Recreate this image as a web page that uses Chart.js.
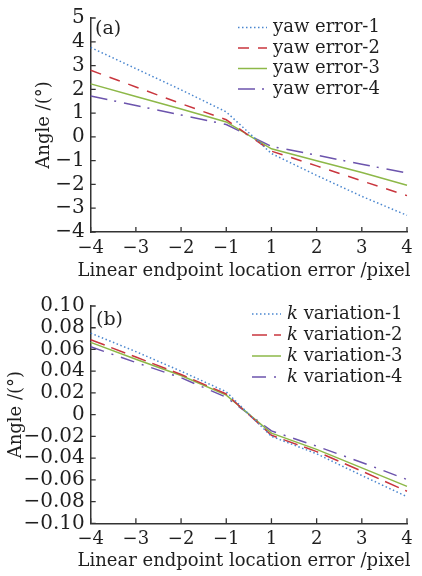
<!DOCTYPE html>
<html>
<head>
<meta charset="utf-8">
<script src="https://cdn.jsdelivr.net/npm/chart.js@4.4.0/dist/chart.umd.min.js"></script>
<style>
body { margin: 0; background: #fff; }
.box { position: absolute; left: 0; width: 422px; height: 288px; }
</style>
</head>
<body>
<div class="box" style="top:0"><canvas id="chartA" width="422" height="288"></canvas></div>
<div class="box" style="top:288px"><canvas id="chartB" width="422" height="288"></canvas></div>
<script>
// endpoint location error (pixel), no 0 column
var xLabels = ['-4', '-3', '-2', '-1', '1', '2', '3', '4'];
var xTitle = 'Linear endpoint location error /pixel';

// (a) yaw error
var yawErr1 = [3.76, 2.87, 1.98, 1.05, -0.70, -1.62, -2.50, -3.30];
var yawErr2 = [2.80, 2.10, 1.40, 0.72, -0.60, -1.22, -1.85, -2.47];
var yawErr3 = [2.23, 1.70, 1.17, 0.63, -0.50, -1.00, -1.50, -2.03];
var yawErr4 = [1.72, 1.32, 0.92, 0.52, -0.40, -0.77, -1.15, -1.52];

// (b) k variation
var kVar1 = [0.0750, 0.058, 0.040, 0.021, -0.020, -0.036, -0.056, -0.0755];
var kVar2 = [0.0690, 0.053, 0.037, 0.019, -0.019, -0.034, -0.052, -0.0705];
var kVar3 = [0.0665, 0.051, 0.036, 0.018, -0.017, -0.032, -0.049, -0.0660];
var kVar4 = [0.0625, 0.048, 0.034, 0.016, -0.015, -0.029, -0.044, -0.0597];

var FONT = "'DejaVu Serif', serif";
var TXT = '#1f1f1f';
var AXIS = '#333';
var BLUE = '#4a86cf', RED = '#c9363e', GREEN = '#8db848', PURPLE = '#6c54ad';

function minus(s) { return String(s).replace('-', '\u2212'); }

// inward ticks, x title, panel tag and legend drawn on top
var decor = {
	id: 'decor',
	afterDraw: function(chart, args, o) {
		var ctx = chart.ctx, a = chart.chartArea;
		var xs = chart.scales.x, ys = chart.scales.y;
		ctx.save();
		ctx.strokeStyle = AXIS;
		ctx.lineWidth = 1.3;
		ctx.beginPath();
		for (var i = 0; i < xs.ticks.length; i++) {
			var px = xs.getPixelForTick(i);
			ctx.moveTo(px, a.bottom);
			ctx.lineTo(px, a.bottom - 5);
		}
		for (var j = 0; j < ys.ticks.length; j++) {
			var py = ys.getPixelForTick(j);
			ctx.moveTo(a.left, py);
			ctx.lineTo(a.left + 5, py);
		}
		ctx.stroke();

		ctx.fillStyle = TXT;
		ctx.textBaseline = 'middle';
		ctx.textAlign = 'center';
		ctx.font = '18px ' + FONT;
		ctx.fillText(xTitle, o.titleX, o.titleY);

		ctx.textAlign = 'left';
		ctx.font = '19px ' + FONT;
		ctx.fillText(o.tag, o.tagX, o.tagY);

		ctx.font = '18px ' + FONT;
		chart.data.datasets.forEach(function(ds, k) {
			var y = o.legY + k * o.legStep;
			ctx.beginPath();
			ctx.strokeStyle = ds.borderColor;
			ctx.lineWidth = ds.borderWidth;
			ctx.setLineDash(ds.borderDash || []);
			ctx.moveTo(o.legX, y);
			ctx.lineTo(o.legX + o.legLen, y);
			ctx.stroke();
			ctx.setLineDash([]);
			var tx = o.legX + o.legLen + o.legGap;
			var label = ds.label;
			if (label.indexOf('k ') === 0) {
				ctx.font = 'italic 18px ' + FONT;
				ctx.fillText('k', tx, y);
				tx += ctx.measureText('k').width;
				ctx.font = '18px ' + FONT;
				label = label.substring(1);
			}
			ctx.fillText(label, tx, y);
		});
		ctx.restore();
	}
};

function line(label, data, color, dash) {
	return {
		label: label, data: data, borderColor: color, borderWidth: 1.5,
		borderDash: dash, pointRadius: 0, tension: 0, fill: false
	};
}

function makeChart(id, datasets, p) {
	return new Chart(document.getElementById(id), {
		type: 'line',
		data: { labels: xLabels, datasets: datasets },
		plugins: [decor],
		options: {
			responsive: false,
			animation: false,
			layout: { padding: { top: p.top, right: 15, left: 0, bottom: 0 } },
			plugins: { legend: { display: false }, tooltip: { enabled: false }, decor: p.decor },
			scales: {
				x: {
					type: 'category',
					offset: false,
					grid: { display: false, drawTicks: false },
					border: { display: true, color: AXIS, width: 1.5 },
					ticks: {
						color: TXT, padding: p.xPad, maxRotation: 0, autoSkip: false,
						font: { family: FONT, size: 18 },
						callback: function(v) { return minus(this.getLabelForValue(v)); }
					},
					afterFit: function(s) { s.height = 288 - p.bottom; }
				},
				y: {
					min: p.min, max: p.max,
					grid: { display: false, drawTicks: false },
					border: { display: true, color: AXIS, width: 1.5 },
					ticks: {
						color: TXT, padding: 6, stepSize: p.step, autoSkip: false,
						font: { family: FONT, size: 20 },
						callback: p.yFmt
					},
					title: {
						display: true, text: 'Angle /(\u00b0)',
						color: TXT, font: { family: FONT, size: 18 },
						padding: { top: p.yTitlePad, bottom: 0 }
					},
					afterFit: function(s) { s.width = 90.7; }
				}
			}
		}
	});
}

makeChart('chartA', [
	line('yaw error-1', yawErr1, BLUE, [1.5, 2.5]),
	line('yaw error-2', yawErr2, RED, [11, 9]),
	line('yaw error-3', yawErr3, GREEN, []),
	line('yaw error-4', yawErr4, PURPLE, [17, 7, 2, 8])
], {
	top: 15, bottom: 232, min: -4, max: 5, step: 1,
	xPad: 6, yTitlePad: 34,
	yFmt: function(v) { return minus(v); },
	decor: { tag: '(a)', tagX: 95, tagY: 29, legX: 238, legLen: 29, legGap: 6, legY: 27.5, legStep: 20.5,
		titleX: 244, titleY: 271 }
});

makeChart('chartB', [
	line('k variation-1', kVar1, BLUE, [1.5, 2.5]),
	line('k variation-2', kVar2, RED, [15, 7]),
	line('k variation-3', kVar3, GREEN, []),
	line('k variation-4', kVar4, PURPLE, [14, 8, 2, 8])
], {
	top: 17, bottom: 235.3, min: -0.1, max: 0.1, step: 0.02,
	xPad: 5, yTitlePad: 6,
	yFmt: function(v) {
		var r = Math.round(v * 100) / 100;
		if (r === 0) return '0';
		return (r < 0 ? '\u2212' : '') + Math.abs(r).toFixed(2);
	},
	decor: { tag: '(b)', tagX: 96, tagY: 32, legX: 252, legLen: 29, legGap: 6, legY: 26, legStep: 21,
		titleX: 244, titleY: 273 }
});
</script>
</body>
</html>
